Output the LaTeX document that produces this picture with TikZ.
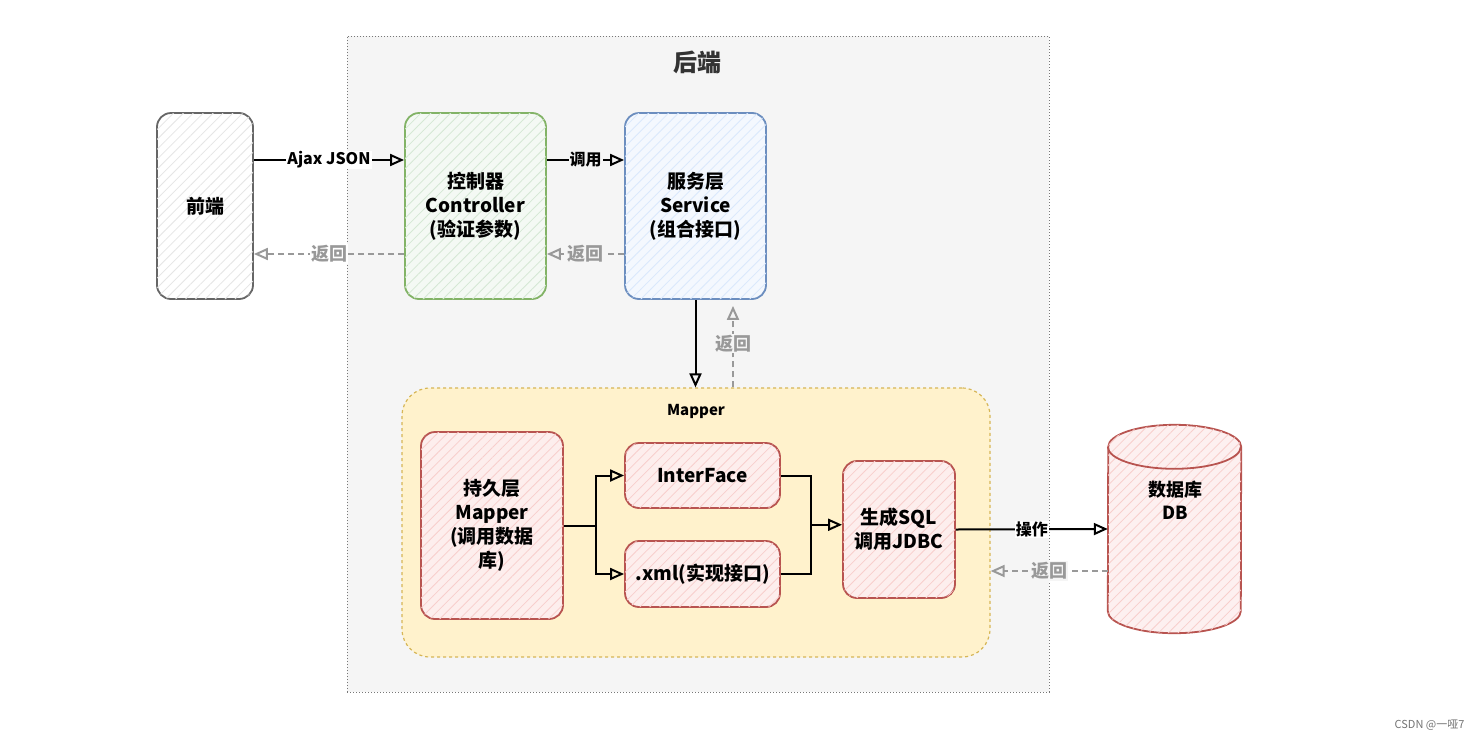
\documentclass[tikz,border=0pt]{standalone}
\usepackage{fontspec}
\setmainfont{Noto Sans CJK SC}
\usetikzlibrary{arrows.meta,patterns.meta,calc}

\definecolor{backgray}{HTML}{F5F5F5}
\definecolor{backline}{HTML}{777777}
\definecolor{frontline}{HTML}{666666}
\definecolor{ctrlline}{HTML}{82B366}
\definecolor{ctrlfill}{HTML}{D5E8D4}
\definecolor{svcline}{HTML}{6C8EBF}
\definecolor{svcfill}{HTML}{DAE8FC}
\definecolor{persline}{HTML}{B85450}
\definecolor{persfill}{HTML}{F8CECC}
\definecolor{mapline}{HTML}{D6B656}
\definecolor{mapfill}{HTML}{FFF2CC}
\definecolor{retgray}{HTML}{999999}

\tikzstyle{box}=[rounded corners=14pt, line width=1.8pt, align=center, text=black,
    font=\fontsize{19}{24}\selectfont\bfseries]
\tikzstyle{front box}=[box, draw=frontline, fill=white,
    postaction={pattern={Lines[angle=45,distance=7pt,line width=0.8pt]}, pattern color=black!10}]
\tikzstyle{ctrl box}=[box, draw=ctrlline, fill=ctrlfill!25,
    postaction={pattern={Lines[angle=45,distance=7pt,line width=0.8pt]}, pattern color=ctrlfill}]
\tikzstyle{svc box}=[box, draw=svcline, fill=svcfill!30,
    postaction={pattern={Lines[angle=45,distance=7pt,line width=0.8pt]}, pattern color=svcfill}]
\tikzstyle{pers box}=[box, draw=persline, fill=persfill!35,
    postaction={pattern={Lines[angle=45,distance=7pt,line width=0.8pt]}, pattern color=persfill}]
\tikzstyle{back box}=[draw=backline, fill=backgray, dotted, line width=1pt]
\tikzstyle{mapper box}=[draw=mapline, fill=mapfill, dashed, line width=1.2pt, rounded corners=28pt]
\tikzstyle{edge}=[draw, line width=2pt, -{Triangle[open,length=14pt,width=12pt]}]
\tikzstyle{return edge}=[draw, retgray, line width=2pt, dash pattern=on 6pt off 4pt,
    -{Triangle[open,length=14pt,width=12pt]}]
\tikzstyle{call label}=[font=\fontsize{16}{16}\selectfont\bfseries, text=black, fill=white, inner sep=1pt]
\tikzstyle{return label}=[font=\fontsize{18}{18}\selectfont\bfseries, text=retgray, fill=backgray, inner sep=1pt]

\begin{document}
\begin{tikzpicture}[x=1pt, y=-1pt]
    \useasboundingbox (0,0) rectangle (1478,742);
    % Containers
    \node[back box, minimum width=702, minimum height=656] (backend) at (698,364) {};
    \node[font=\fontsize{24}{24}\selectfont\bfseries, text=black!80] (backtitle) at (697,62) {后端};
    \node[mapper box, minimum width=588, minimum height=269] (mapper) at (696,522.5) {};
    \node[font=\fontsize{15}{15}\selectfont\bfseries] (maptitle) at (696,411) {Mapper};
    % Layers
    \node[front box, minimum width=96, minimum height=186] (front) at (205,206) {前端};
    \node[ctrl box, minimum width=141, minimum height=186] (ctrl) at (475.5,206) {控制器\\Controller\\(验证参数)};
    \node[svc box, minimum width=141, minimum height=186] (svc) at (695.5,206) {服务层\\Service\\(组合接口)};
    \node[pers box, minimum width=142, minimum height=187] (pers) at (492,525.5) {持久层\\Mapper\\(调用数据\\库)};
    \node[pers box, minimum width=155, minimum height=65] (iface) at (702.5,475.5) {InterFace};
    \node[pers box, minimum width=155, minimum height=66] (xml) at (702.5,574) {.xml(实现接口)};
    \node[pers box, minimum width=112, minimum height=137] (sql) at (899,529.5) {生成SQL\\调用JDBC};
    % Database cylinder
    \node[minimum width=133, minimum height=208, inner sep=0pt] (db) at (1174.5,529) {};
    \path[draw=persline, line width=1.8pt, fill=persfill!30,
        postaction={pattern={Lines[angle=45,distance=7pt,line width=0.8pt]}, pattern color=persfill}]
        ($(db.south west)+(0,-22)$) arc[start angle=180, end angle=360, x radius=66.5pt, y radius=22pt]
        -- ($(db.north east)+(0,22)$) arc[start angle=0, end angle=180, x radius=66.5pt, y radius=22pt]
        -- cycle;
    \draw[persline, line width=1.8pt] ($(db.north west)+(0,22)$)
        arc[start angle=180, end angle=360, x radius=66.5pt, y radius=22pt];
    \node[align=center, font=\fontsize{18}{23}\selectfont\bfseries] (dbtext) at (1175,500) {数据库\\DB};
    % Calls
    \draw[edge] ($(front.east)+(0,-46)$) -- node[call label] {Ajax JSON} ($(ctrl.west)+(0,-46)$);
    \draw[edge] ($(ctrl.east)+(0,-46)$) -- node[call label, fill=backgray] {调用} ($(svc.west)+(0,-46)$);
    \draw[edge] (svc.south) -- (svc.south |- mapper.north);
    \draw[edge] (pers.east) -- ++(32,0) |- (iface.west);
    \draw[edge] (pers.east) -- ++(32,0) |- (xml.west);
    \coordinate (join) at ($(iface.east)!0.5!(xml.east)+(30,0)$);
    \draw[line width=2pt] (iface.east) -| (join) (xml.east) -| (join);
    \draw[edge] (join) -- (join -| sql.west);
    \draw[edge] (sql.east) -- node[call label] {操作} (db.west);
    % Returns
    \draw[return edge] ($(ctrl.west)+(0,48)$) -- node[return label, fill=white] {返回} ($(front.east)+(0,48)$);
    \draw[return edge] ($(svc.west)+(0,48)$) -- node[return label] {返回} ($(ctrl.east)+(0,48)$);
    \coordinate (mapret) at ($(mapper.north)+(37,0)$);
    \draw[return edge, shorten >=6pt] (mapret) -- node[return label] {返回} (mapret |- svc.south);
    \coordinate (dbret) at ($(db.west)+(0,42)$);
    \draw[return edge] (dbret) -- node[return label] {返回} (dbret -| mapper.east);
    % Watermark
    \node[anchor=east, text=black!55, font=\fontsize{11}{11}\selectfont] (mark) at (1468,725) {CSDN @一哑7};
\end{tikzpicture}
\end{document}
